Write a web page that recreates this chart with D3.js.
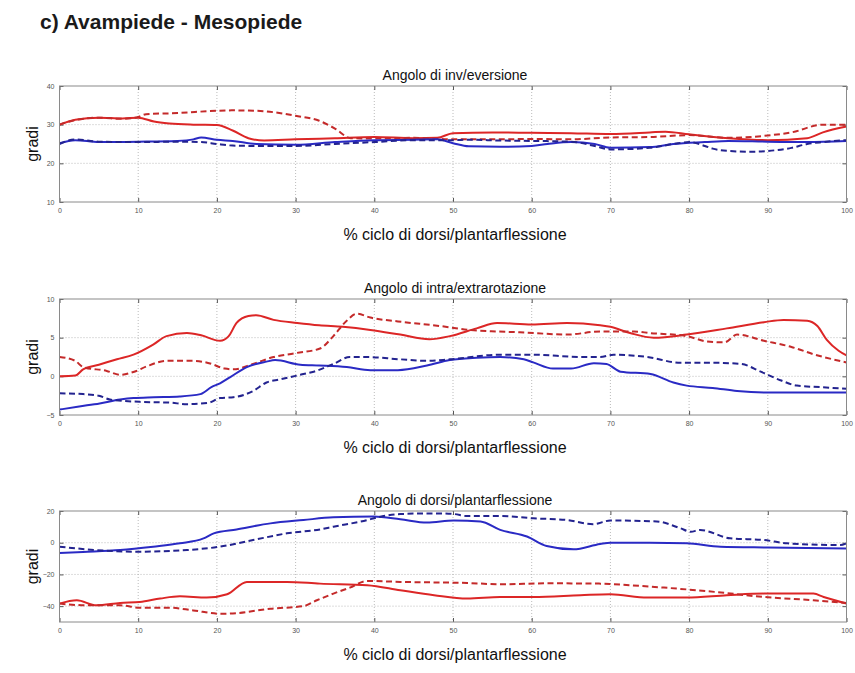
<!DOCTYPE html>
<html>
<head>
<meta charset="utf-8">
<script src="https://cdn.jsdelivr.net/npm/d3@7"></script>
<style>
  body { margin: 0; background: #fff; }
  svg { display: block; font-family: Arial, "Liberation Sans", sans-serif; }
</style>
</head>
<body>
<div id="chart"></div>
<script>
// x axis ticks (percent of cycle)
const xTicks = [0, 10, 20, 30, 40, 50, 60, 70, 80, 90, 100];

// panel titles and y ticks
const panelTitles = ["Angolo di inv/eversione", "Angolo di intra/extrarotazione", "Angolo di dorsi/plantarflessione"];
const panelDomains = [[10, 40], [-5, 10], [-50, 20]];
const panelYTicks = [[10, 20, 30, 40], [-5, 0, 5, 10], [-40, -20, 0, 20]];

// panel 1 - inv/eversione
const redSolid1 = [[0,30],[2,31.3],[5,31.8],[8,31.6],[10,31.8],[12,30.8],[14,30.3],[17,30],[20,29.9],[22,28.5],[24,26.5],[26,25.9],[30,26.2],[35,26.5],[40,26.8],[45,26.5],[48,26.6],[50,27.8],[55,28],[60,27.9],[65,27.8],[70,27.6],[75,28],[77,28.2],[80,27.5],[85,26.5],[90,26],[95,26.5],[97,28],[100,29.5]];
const redDash1 = [[0,30],[2,31.2],[5,31.8],[8,31.5],[10,32],[11,32.7],[15,33],[20,33.6],[22,33.7],[25,33.6],[30,32.3],[33,31],[35,29],[37,26.5],[40,26.4],[45,26.6],[50,26.2],[55,26.2],[60,26.3],[65,26.2],[70,26.7],[75,26.8],[80,27.3],[85,26.6],[90,27.2],[93,28],[97,30],[100,30]];
const blueSolid1 = [[0,25.2],[2,26],[5,25.5],[10,25.6],[15,25.8],[17,26.2],[18,26.7],[20,26.1],[22,25.8],[25,25],[30,24.8],[35,25.5],[40,26],[45,26.1],[48,26.2],[50,25.2],[52,24.4],[56,24.3],[60,24.5],[62,25],[65,25.5],[68,25],[70,24],[75,24.2],[78,25],[82,25.5],[85,25.8],[90,25.6],[95,25.5],[100,25.8]];
const blueDash1 = [[0,25],[2,26.2],[5,25.6],[10,25.5],[15,25.6],[18,25.5],[20,25],[22,24.6],[25,24.5],[30,24.5],[35,25],[40,25.5],[45,26],[50,26],[52,26.1],[56,25.9],[60,25.8],[65,25.6],[68,24.5],[70,23.6],[75,24],[78,25],[80,25.5],[82,24.5],[83,23.8],[85,23.2],[88,23],[90,23.2],[93,24],[95,25],[97,25.5],[100,26]];

// panel 2 - intra/extrarotazione
const redSolid2 = [[0,0],[2,0.1],[3,0.9],[5,1.5],[7.3,2.2],[9.4,2.8],[11.9,4.1],[13.6,5.2],[16.2,5.6],[18,5.3],[20.4,4.6],[21.5,5.2],[22.5,6.9],[24,7.8],[25,7.9],[27.2,7.3],[30.2,6.9],[33,6.6],[36,6.4],[39.5,6],[43.3,5.4],[47,4.8],[49.6,5.2],[53,6.2],[55.6,6.9],[60,6.7],[64.5,6.9],[68.7,6.6],[70,6.4],[72.5,5.6],[75.5,5],[79.7,5.4],[84.8,6.2],[89.5,7],[92,7.3],[95,7.2],[96.3,6.5],[97.5,4.7],[99,3.3],[100,2.7]];
const redDash2 = [[0,2.5],[2,2],[3,1.2],[6,0.7],[7.7,0.2],[9.5,0.6],[11.1,1.3],[13.6,2],[17,2],[19,1.7],[21,1],[22.1,0.9],[24.6,1.6],[27.2,2.5],[30,3],[33.1,3.6],[34.8,5.2],[36.5,7.2],[37.8,8.1],[39.5,7.6],[43,7.1],[48.4,6.5],[52,6],[55.6,5.8],[58.5,5.7],[64.5,5.4],[68.7,5.8],[73,5.8],[75,5.6],[79.7,5.2],[82.3,4.5],[84.5,4.4],[86.1,5.4],[89.5,4.6],[93,3.8],[96,2.8],[100,1.8]];
const blueSolid2 = [[0,-4.3],[2.5,-3.9],[5.1,-3.5],[7.7,-3],[9.4,-2.8],[12,-2.7],[15.3,-2.6],[17.9,-2.3],[19.3,-1.4],[20.4,-0.9],[21.7,-0.1],[23.8,1.2],[26.3,1.9],[27.4,2.1],[30.6,1.5],[33,1.4],[36.5,1.2],[39.5,0.8],[43,0.8],[46.7,1.4],[49.6,2.1],[53,2.4],[56,2.5],[59,2.2],[60.2,1.8],[62.7,1],[65,1],[67.9,1.7],[69.5,1.6],[71.3,0.6],[75.1,0.3],[78,-0.8],[79.7,-1.2],[83,-1.5],[86.1,-1.9],[90,-2.1],[95,-2.1],[100,-2.1]];
const blueDash2 = [[0,-2.2],[3,-2.3],[5,-2.5],[6.4,-3],[10.2,-3.3],[14,-3.4],[16.2,-3.6],[19,-3.4],[20.4,-2.8],[22.1,-2.7],[24.6,-1.9],[26.3,-0.8],[28,-0.4],[30.6,0.2],[32.3,0.6],[34.8,1.6],[36.9,2.5],[39,2.5],[43.3,2.2],[46.7,2],[49.6,2.2],[56,2.8],[60.2,2.8],[66.2,2.5],[68.7,2.5],[70.4,2.8],[74.7,2.5],[78.9,1.75],[83.2,1.75],[86.6,1.6],[89.1,0.6],[91.6,-0.5],[93.7,-1.2],[96.7,-1.4],[100,-1.6]];

// panel 3 - dorsi/plantarflessione
const redSolid3 = [[0,-38.4],[2.2,-36.3],[4.7,-39.5],[7.7,-38],[10.2,-37.4],[12.8,-35.2],[15.3,-33.8],[18.7,-34.6],[21.3,-32.5],[23.8,-24.7],[28.9,-24.7],[33.1,-25.8],[39.1,-26.8],[43.3,-30],[47.6,-33.1],[51.8,-35.2],[56,-34.2],[60.2,-34.2],[66.2,-33.1],[70,-32.5],[74.7,-34.6],[79.7,-34.6],[84.8,-33.1],[89.5,-32.1],[95.8,-32.1],[97.1,-34.2],[100,-38.4]];
const redDash3 = [[0,-38.4],[3.5,-39.5],[7.7,-39.5],[10.2,-41],[14,-41],[17,-42.7],[20.4,-44.8],[22.5,-44.4],[26.8,-41.6],[31,-40],[32.7,-36.3],[34.8,-32.1],[36.9,-28.3],[39.1,-24.1],[43.3,-24.7],[51.8,-25.4],[56,-26.2],[62,-25.6],[68.7,-25.8],[70.4,-26.2],[76.8,-28.3],[83.2,-31],[89.5,-34.2],[95.8,-36.3],[100,-38]];
const blueSolid3 = [[0,-6.5],[3,-5.8],[7.7,-4.6],[11.9,-2.5],[15.3,-0.4],[18.3,2.7],[19.6,5.9],[22.5,8.4],[26.8,12.2],[31,14.3],[34.8,16],[39.9,16.5],[43.3,14.8],[46.7,12.7],[50.1,14],[53.5,13.4],[56,8.1],[59.4,3.9],[61.9,-2.1],[65.3,-4.2],[68.7,-0.8],[70,0],[75,0],[79.7,-0.4],[84,-2.5],[90,-3],[100,-3.6]];
const blueDash3 = [[0,-2.5],[3.5,-4.2],[9.8,-5.7],[16.2,-4.6],[20.4,-2.5],[24.6,1.7],[28.9,5.9],[33.1,8.4],[34.8,10.1],[39.1,14.3],[40.4,16],[43.3,18.1],[47.6,18.5],[50.1,18.1],[51.8,16.8],[56,16.8],[60.2,15.4],[64.5,14.3],[67.8,11.7],[70,14],[75.9,13.4],[78.9,9.1],[80.2,6.9],[81.4,8],[85.2,2.8],[89.5,1.7],[92.5,-0.4],[99.2,-1.5],[100,-0.4]];

const panelSeries = [
  [redSolid1, redDash1, blueSolid1, blueDash1],
  [redSolid2, redDash2, blueSolid2, blueDash2],
  [redSolid3, redDash3, blueSolid3, blueDash3],
];

const width = 855, height = 673;
const left = 59.5, right = 846.5;
const panelTops = [86, 299, 511];
const panelBottoms = [202, 415, 622];

const styles = [
  { color: "#dc2626", dash: null },
  { color: "#c42a2a", dash: "6,3.5" },
  { color: "#2a2ac4", dash: null },
  { color: "#23238f", dash: "6,3.5" },
];

const svg = d3.select("#chart").append("svg")
  .attr("width", width)
  .attr("height", height);

// main title
svg.append("text")
  .attr("x", 40)
  .attr("y", 29)
  .attr("font-size", 21)
  .attr("font-weight", "bold")
  .attr("fill", "#1a1a1a")
  .text("c) Avampiede - Mesopiede");

const x = d3.scaleLinear().domain([0, 100]).range([left, right]);

panelTitles.forEach((title, p) => {
  const top = panelTops[p], bottom = panelBottoms[p];
  const y = d3.scaleLinear().domain(panelDomains[p]).range([bottom, top]);
  const g = svg.append("g");

  // background
  g.append("rect")
    .attr("x", left).attr("y", top)
    .attr("width", right - left).attr("height", bottom - top)
    .attr("fill", "#fff");

  // dotted grid
  g.selectAll("line.vgrid")
    .data(xTicks.slice(1, -1))
    .join("line")
    .attr("x1", (d) => x(d)).attr("x2", (d) => x(d))
    .attr("y1", top).attr("y2", bottom)
    .attr("stroke", "#aaa")
    .attr("stroke-width", 0.8)
    .attr("stroke-dasharray", "1,2");
  g.selectAll("line.hgrid")
    .data(panelYTicks[p].filter((d) => d > panelDomains[p][0] && d < panelDomains[p][1]))
    .join("line")
    .attr("x1", left).attr("x2", right)
    .attr("y1", (d) => y(d)).attr("y2", (d) => y(d))
    .attr("stroke", "#aaa")
    .attr("stroke-width", 0.8)
    .attr("stroke-dasharray", "1,2");

  // axes, matlab style ticks pointing inside
  g.append("g")
    .attr("transform", `translate(0,${bottom})`)
    .call(d3.axisBottom(x).tickValues(xTicks).tickSize(-4).tickPadding(6).tickSizeOuter(0));
  g.append("g")
    .attr("transform", `translate(0,${top})`)
    .call(d3.axisTop(x).tickValues(xTicks).tickSize(-4).tickFormat("").tickSizeOuter(0));
  g.append("g")
    .attr("transform", `translate(${left},0)`)
    .call(d3.axisLeft(y).tickValues(panelYTicks[p]).tickSize(-4).tickPadding(5).tickSizeOuter(0));
  g.append("g")
    .attr("transform", `translate(${right},0)`)
    .call(d3.axisRight(y).tickValues(panelYTicks[p]).tickSize(-4).tickFormat("").tickSizeOuter(0));

  g.selectAll(".domain").remove();
  g.selectAll(".tick line").attr("stroke", "#555");
  g.selectAll(".tick text").attr("font-size", 7).attr("fill", "#555");

  // series lines
  const line = d3.line()
    .x((d) => x(d[0]))
    .y((d) => y(d[1]))
    .curve(d3.curveMonotoneX);
  panelSeries[p].forEach((series, i) => {
    g.append("path")
      .datum(series)
      .attr("d", line)
      .attr("fill", "none")
      .attr("stroke", styles[i].color)
      .attr("stroke-width", 2)
      .attr("stroke-dasharray", styles[i].dash);
  });

  // frame
  g.append("rect")
    .attr("x", left).attr("y", top)
    .attr("width", right - left).attr("height", bottom - top)
    .attr("fill", "none")
    .attr("stroke", "#8a8a8a")
    .attr("stroke-width", 1);

  // panel title
  svg.append("text")
    .attr("x", 455)
    .attr("y", top - 6)
    .attr("text-anchor", "middle")
    .attr("font-size", 14)
    .attr("fill", "#111")
    .text(title);

  // x label
  svg.append("text")
    .attr("x", 455)
    .attr("y", bottom + 38)
    .attr("text-anchor", "middle")
    .attr("font-size", 16)
    .attr("fill", "#111")
    .text("% ciclo di dorsi/plantarflessione");

  // y label
  svg.append("text")
    .attr("transform", `translate(38,${(top + bottom) / 2}) rotate(-90)`)
    .attr("text-anchor", "middle")
    .attr("font-size", 16)
    .attr("fill", "#111")
    .text("gradi");
});
</script>
</body>
</html>
